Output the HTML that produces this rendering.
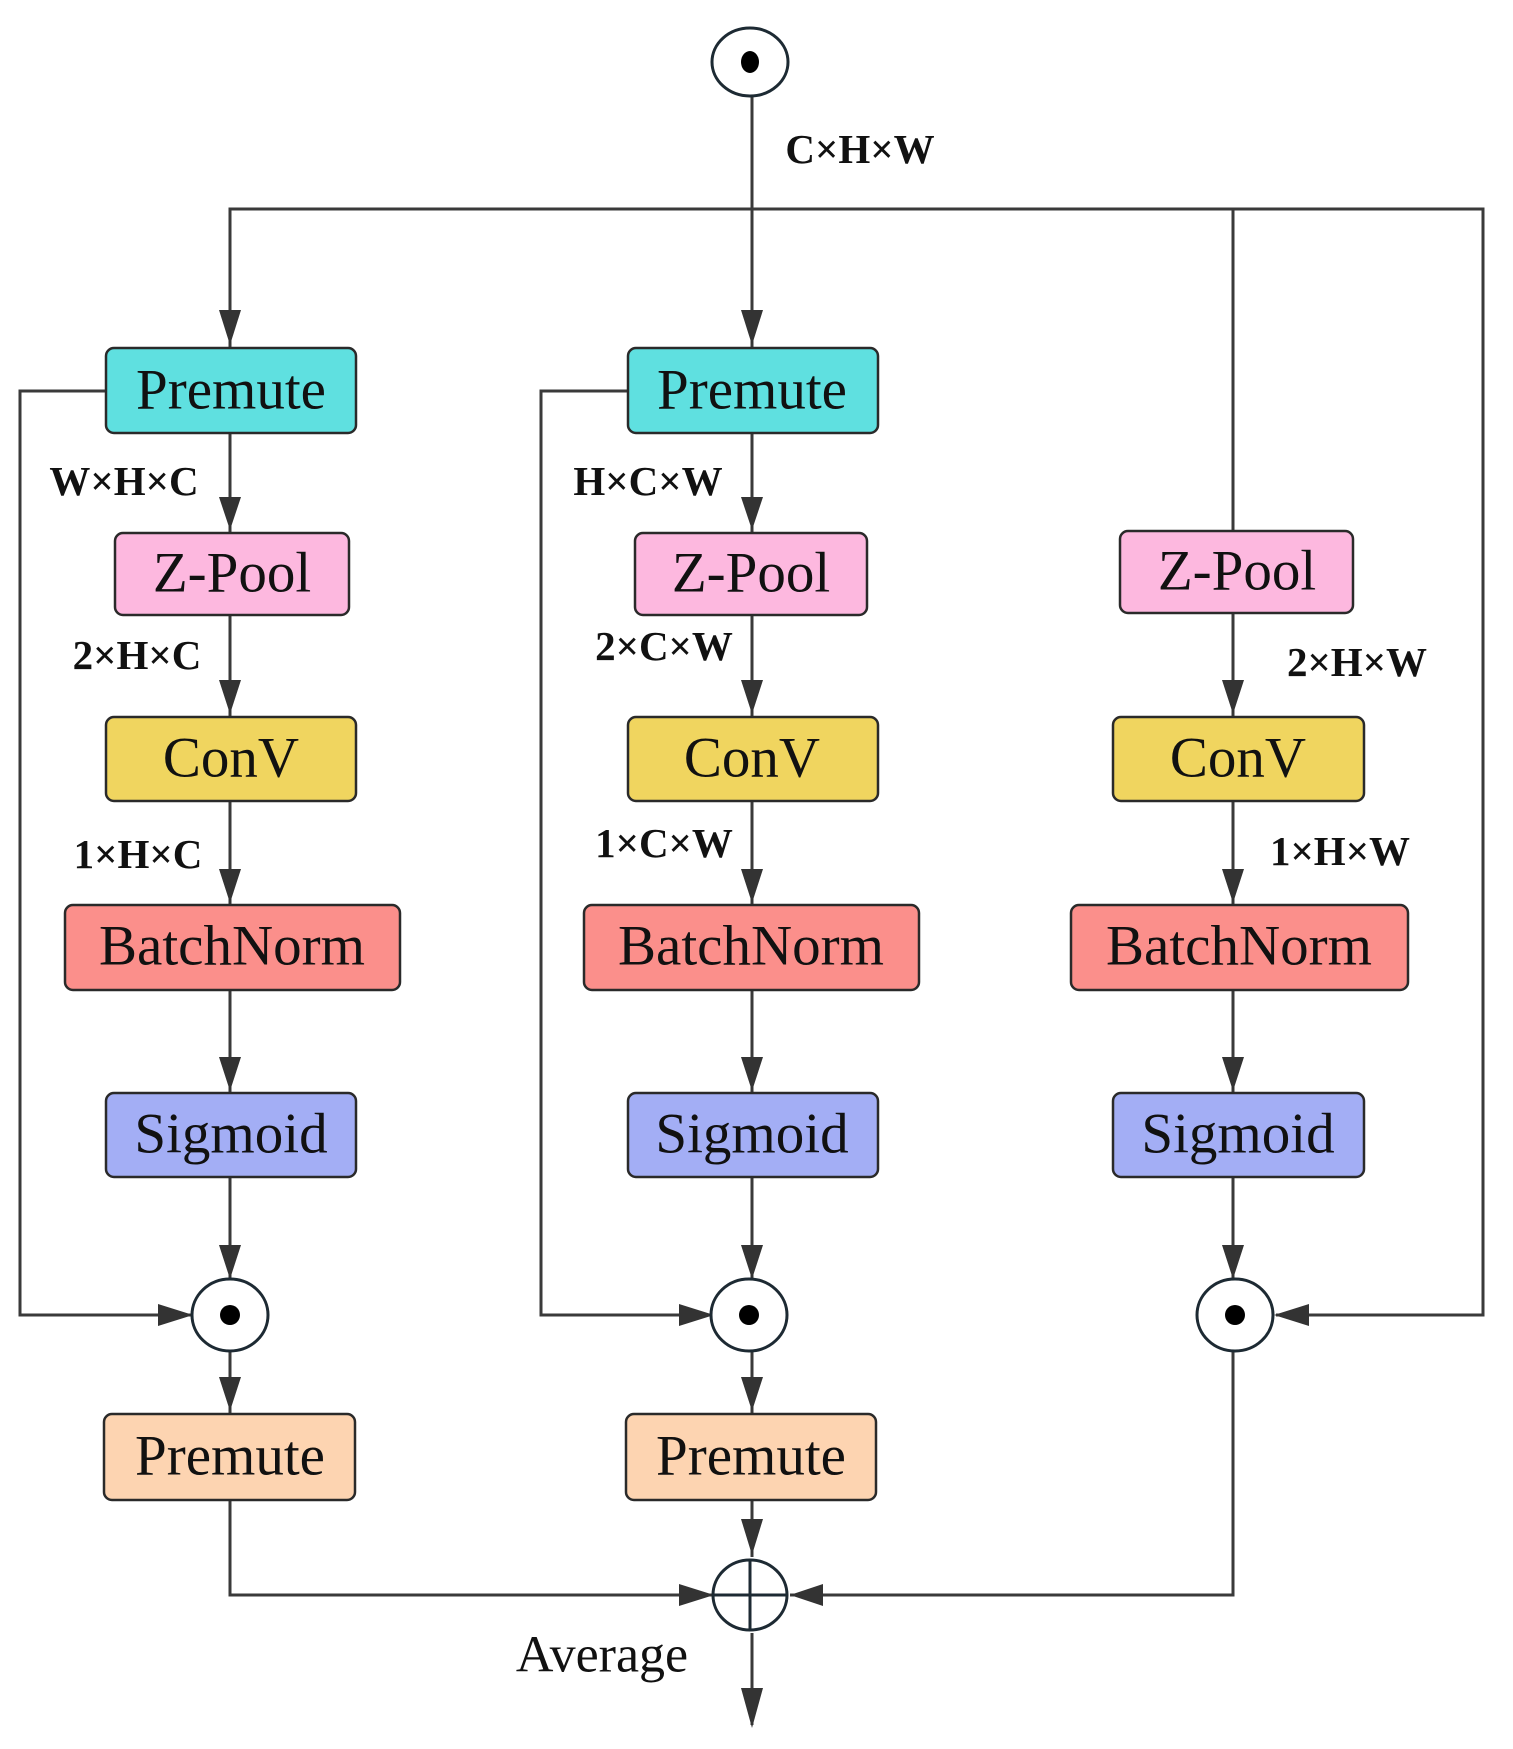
<!DOCTYPE html>
<html><head><meta charset="utf-8"><style>
html,body{margin:0;padding:0;background:#fff}
svg{display:block}
.b{stroke:#2a2a2a;stroke-width:2.5}
.t{font-family:"Liberation Serif",serif;font-size:57px;fill:#111;text-anchor:middle;dominant-baseline:central}
.l{font-family:"Liberation Serif",serif;font-size:41px;font-weight:bold;fill:#111;text-anchor:middle;dominant-baseline:central}
.ln{stroke:#3a3a3a;stroke-width:3;fill:none}
</style></head><body>
<svg width="1513" height="1749" viewBox="0 0 1513 1749" xmlns="http://www.w3.org/2000/svg">
<g id="lines">
<line class="ln" x1="752" y1="96" x2="752" y2="349"/>
<path class="ln" d="M230,349 V209 H1483 V1315 H1276"/>
<line class="ln" x1="1233" y1="209" x2="1233" y2="531"/>
<line class="ln" x1="230" y1="434" x2="230" y2="533"/>
<line class="ln" x1="230" y1="615" x2="230" y2="717"/>
<line class="ln" x1="230" y1="801" x2="230" y2="906"/>
<line class="ln" x1="230" y1="991" x2="230" y2="1094"/>
<line class="ln" x1="230" y1="1178" x2="230" y2="1281"/>
<line class="ln" x1="230" y1="1351" x2="230" y2="1413"/>
<line class="ln" x1="752" y1="434" x2="752" y2="533"/>
<line class="ln" x1="752" y1="615" x2="752" y2="717"/>
<line class="ln" x1="752" y1="801" x2="752" y2="906"/>
<line class="ln" x1="752" y1="991" x2="752" y2="1094"/>
<line class="ln" x1="752" y1="1178" x2="752" y2="1281"/>
<line class="ln" x1="752" y1="1351" x2="752" y2="1413"/>
<line class="ln" x1="752" y1="1499" x2="752" y2="1557"/>
<line class="ln" x1="752" y1="1633" x2="752" y2="1725"/>
<line class="ln" x1="1233" y1="613" x2="1233" y2="717"/>
<line class="ln" x1="1233" y1="801" x2="1233" y2="906"/>
<line class="ln" x1="1233" y1="991" x2="1233" y2="1094"/>
<line class="ln" x1="1233" y1="1178" x2="1233" y2="1281"/>
<path class="ln" d="M106,391 H20 V1315 H193"/>
<path class="ln" d="M628,391 H541 V1315 H714"/>
<path class="ln" d="M230,1499 V1595 H714"/>
<path class="ln" d="M1233,1351 V1595 H790"/>
</g>
<g fill="#333">
<path d="M219,310 L241,310 L230,345 Z"/>
<path d="M741,310 L763,310 L752,345 Z"/>
<path d="M219,497 L241,497 L230,530 Z"/>
<path d="M741,497 L763,497 L752,530 Z"/>
<path d="M219,680 L241,680 L230,714 Z"/>
<path d="M741,680 L763,680 L752,714 Z"/>
<path d="M1222,680 L1244,680 L1233,714 Z"/>
<path d="M219,869 L241,869 L230,903 Z"/>
<path d="M741,869 L763,869 L752,903 Z"/>
<path d="M1222,869 L1244,869 L1233,903 Z"/>
<path d="M219,1057 L241,1057 L230,1091 Z"/>
<path d="M741,1057 L763,1057 L752,1091 Z"/>
<path d="M1222,1057 L1244,1057 L1233,1091 Z"/>
<path d="M219,1245 L241,1245 L230,1279 Z"/>
<path d="M741,1245 L763,1245 L752,1279 Z"/>
<path d="M1222,1245 L1244,1245 L1233,1279 Z"/>
<path d="M219,1377 L241,1377 L230,1411 Z"/>
<path d="M741,1377 L763,1377 L752,1411 Z"/>
<path d="M741,1519 L763,1519 L752,1555 Z"/>
<path d="M741,1688 L763,1688 L752,1728 Z"/>
<path d="M158,1304 L158,1326 L193,1315 Z"/>
<path d="M679,1304 L679,1326 L714,1315 Z"/>
<path d="M679,1584 L679,1606 L714,1595 Z"/>
<path d="M1309,1304 L1309,1326 L1274,1315 Z"/>
<path d="M823,1584 L823,1606 L790,1595 Z"/>
</g>
<ellipse cx="750" cy="62" rx="38" ry="34" fill="#fff" stroke="#1d2a33" stroke-width="3"/>
<ellipse cx="750" cy="62" rx="9" ry="11" fill="#000"/>
<g fill="#fff" stroke="#1d2a33" stroke-width="3">
<ellipse cx="230" cy="1315" rx="38" ry="36"/>
<ellipse cx="749" cy="1315" rx="38" ry="36"/>
<ellipse cx="1235" cy="1315" rx="38" ry="36"/>
<ellipse cx="750" cy="1595" rx="37" ry="35"/>
</g>
<g fill="#000">
<circle cx="230" cy="1315" r="10"/>
<circle cx="749" cy="1315" r="10"/>
<circle cx="1235" cy="1315" r="10"/>
</g>
<path d="M713,1595 H787 M750,1560 V1630" stroke="#1d2a33" stroke-width="3"/>
<g class="b">
<rect x="106" y="348" width="250" height="85" rx="8" fill="#5fe0e0"/>
<rect x="628" y="348" width="250" height="85" rx="8" fill="#5fe0e0"/>
<rect x="115" y="533" width="234" height="82" rx="8" fill="#fdb8df"/>
<rect x="635" y="533" width="232" height="82" rx="8" fill="#fdb8df"/>
<rect x="1120" y="531" width="233" height="82" rx="8" fill="#fdb8df"/>
<rect x="106" y="717" width="250" height="84" rx="8" fill="#f0d55f"/>
<rect x="628" y="717" width="250" height="84" rx="8" fill="#f0d55f"/>
<rect x="1113" y="717" width="251" height="84" rx="8" fill="#f0d55f"/>
<rect x="65" y="905" width="335" height="85" rx="8" fill="#fb8f8b"/>
<rect x="584" y="905" width="335" height="85" rx="8" fill="#fb8f8b"/>
<rect x="1071" y="905" width="337" height="85" rx="8" fill="#fb8f8b"/>
<rect x="106" y="1093" width="250" height="84" rx="8" fill="#a3aef5"/>
<rect x="628" y="1093" width="250" height="84" rx="8" fill="#a3aef5"/>
<rect x="1113" y="1093" width="251" height="84" rx="8" fill="#a3aef5"/>
<rect x="104" y="1414" width="251" height="86" rx="8" fill="#fdd4b1"/>
<rect x="626" y="1414" width="250" height="86" rx="8" fill="#fdd4b1"/>
</g>
<g class="t">
<text x="231" y="390">Premute</text>
<text x="752" y="390">Premute</text>
<text x="232" y="573">Z-Pool</text>
<text x="751" y="573">Z-Pool</text>
<text x="1237" y="571">Z-Pool</text>
<text x="231" y="758">ConV</text>
<text x="752" y="758">ConV</text>
<text x="1238" y="758">ConV</text>
<text x="232" y="946">BatchNorm</text>
<text x="751" y="946">BatchNorm</text>
<text x="1239" y="946">BatchNorm</text>
<text x="231" y="1134">Sigmoid</text>
<text x="752" y="1134">Sigmoid</text>
<text x="1238" y="1134">Sigmoid</text>
<text x="230" y="1456">Premute</text>
<text x="751" y="1456">Premute</text>
<text x="602" y="1655" style="font-size:52px">Average</text>
</g>
<g class="l">
<text x="860" y="149">C×H×W</text>
<text x="124" y="481">W×H×C</text>
<text x="648" y="481">H×C×W</text>
<text x="137" y="655">2×H×C</text>
<text x="664" y="646">2×C×W</text>
<text x="1357" y="662">2×H×W</text>
<text x="138" y="854">1×H×C</text>
<text x="664" y="843">1×C×W</text>
<text x="1340" y="851">1×H×W</text>
</g>
</svg>
</body></html>
